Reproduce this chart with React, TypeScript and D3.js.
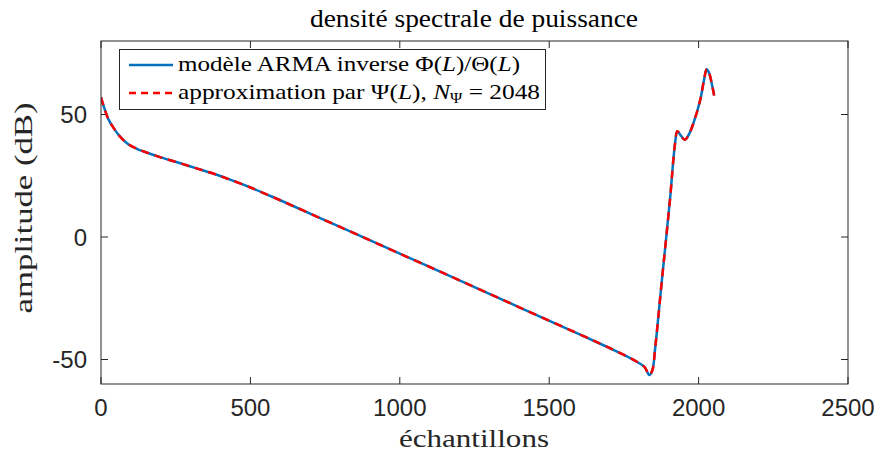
import React from "react";
import * as d3 from "d3";

const sampleX = [0, 10, 25, 45, 60, 90, 120, 150, 200, 260, 320, 380, 430, 500, 560, 600, 800, 1000, 1200, 1400, 1600, 1700, 1760, 1800, 1820, 1835, 1845, 1855, 1876, 1904, 1921, 1929, 1940, 1954, 1968, 1982, 2005, 2018, 2027, 2035, 2045, 2052];
const amplitudeDb = [57, 53, 48, 44, 41.5, 38, 36, 34.6, 32.5, 30.3, 28.0, 25.7, 23.5, 20.2, 17.1, 15.0, 4.1, -6.8, -17.7, -28.7, -39.6, -45.2, -48.7, -51.4, -53.2, -56.3, -54.5, -45, -19, 15, 38, 43.2, 41.5, 39.7, 42, 46.2, 55.7, 64, 68.5, 67, 62, 57.8];
const xTicks = [0, 500, 1000, 1500, 2000, 2500];
const yTicks = [-50, 0, 50];

const W = 874, H = 461;
const L = 101, R = 848, T = 41, B = 384;

export default function App() {
  const x = d3.scaleLinear().domain([0, 2500]).range([L, R]);
  const y = d3.scaleLinear().domain([-60, 80]).range([B, T]);
  const data = sampleX.map((s, i) => [s, amplitudeDb[i]] as [number, number]);
  const line = d3.line<[number, number]>().x(d => x(d[0])).y(d => y(d[1])).curve(d3.curveCatmullRom.alpha(0.5));
  const path = line(data) || "";
  const axisColor = "#262626";
  const serif = "'Liberation Serif', 'Times New Roman', serif";
  const sans = "'Liberation Sans', Arial, sans-serif";
  const tl = 7;
  return (
    <svg width={W} height={H} style={{ position: "absolute", left: 0, top: 0, background: "#fff" }}>
      <rect x={0} y={0} width={W} height={H} fill="#fff" />
      <defs>
        <clipPath id="plotclip"><rect x={L} y={T} width={R - L} height={B - T} /></clipPath>
      </defs>
      {xTicks.map(t => (
        <g key={"xt" + t}>
          <line x1={x(t)} x2={x(t)} y1={B} y2={B - tl} stroke={axisColor} strokeWidth={1} />
          <line x1={x(t)} x2={x(t)} y1={T} y2={T + tl} stroke={axisColor} strokeWidth={1} />
          <text x={x(t)} y={416} textAnchor="middle" fontFamily={sans} fontSize={24} fill={axisColor}>{t}</text>
        </g>
      ))}
      {yTicks.map(t => (
        <g key={"yt" + t}>
          <line x1={L} x2={L + tl} y1={y(t)} y2={y(t)} stroke={axisColor} strokeWidth={1} />
          <line x1={R} x2={R - tl} y1={y(t)} y2={y(t)} stroke={axisColor} strokeWidth={1} />
          <text x={87} y={y(t) + 8.5} textAnchor="end" fontFamily={sans} fontSize={24} fill={axisColor}>{t}</text>
        </g>
      ))}
      <g clipPath="url(#plotclip)">
        <path d={path} fill="none" stroke="#0072BD" strokeWidth={2.5} strokeLinejoin="round" />
        <path d={path} fill="none" stroke="#FF0000" strokeWidth={2.5} strokeDasharray="8 6" />
      </g>
      <rect x={L} y={T} width={R - L} height={B - T} fill="none" stroke={axisColor} strokeWidth={1} />
      <rect x={119.5} y={49.5} width={426} height={60} fill="#fff" stroke={axisColor} strokeWidth={1} />
      <line x1={129} x2={173} y1={65} y2={65} stroke="#0072BD" strokeWidth={2.5} />
      <line x1={129} x2={173} y1={93} y2={93} stroke="#FF0000" strokeWidth={2.5} strokeDasharray="7 5" />
      <text x={178} y={71} fontFamily={serif} fontSize={21.5} fill="#000" textLength={342} lengthAdjust="spacingAndGlyphs">
        modèle ARMA inverse Φ(<tspan fontStyle="italic">L</tspan>)/Θ(<tspan fontStyle="italic">L</tspan>)
      </text>
      <text x={178} y={99} fontFamily={serif} fontSize={21.5} fill="#000" textLength={362} lengthAdjust="spacingAndGlyphs">
        approximation par Ψ(<tspan fontStyle="italic">L</tspan>), <tspan fontStyle="italic">N</tspan><tspan fontSize={14} dy={4}>Ψ</tspan><tspan dy={-4}> = 2048</tspan>
      </text>
      <text x={474} y={27} textAnchor="middle" fontFamily={serif} fontSize={25} fill="#000" textLength={328} lengthAdjust="spacingAndGlyphs">densité spectrale de puissance</text>
      <text x={474} y={447} textAnchor="middle" fontFamily={serif} fontSize={25} fill={axisColor} textLength={150} lengthAdjust="spacingAndGlyphs">échantillons</text>
      <text transform={`translate(32,208) rotate(-90)`} textAnchor="middle" fontFamily={serif} fontSize={25} fill={axisColor} textLength={211} lengthAdjust="spacingAndGlyphs">amplitude (dB)</text>
    </svg>
  );
}
